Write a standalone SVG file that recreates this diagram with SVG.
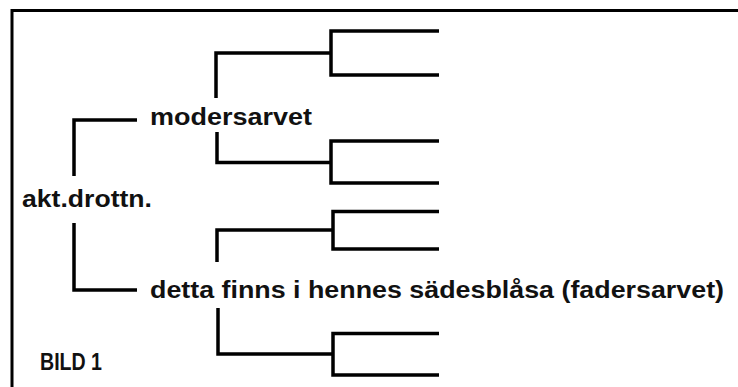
<svg xmlns="http://www.w3.org/2000/svg" width="738" height="387" viewBox="0 0 738 387">
  <style>
    .frame { fill: none; stroke: #000; stroke-width: 3; }
    .line { fill: none; stroke: #000; stroke-width: 3.5; stroke-linecap: butt; stroke-linejoin: miter; }
    .label { font-family: "Liberation Sans", Arial, sans-serif; font-weight: bold; font-size: 23px; fill: #111; }
  </style>
  <rect width="738" height="387" fill="#fff"/>
  <!-- open frame: top and left edges only -->
  <path class="frame" d="M12 387 V10.5 H738"/>

  <g id="connectors">
    <!-- root bracket -->
    <path class="line" d="M137 120 H74 V176"/>
    <path class="line" d="M74 223 V290 H137"/>
    <!-- modersarvet branch -->
    <path class="line" d="M216 98 V53 H331"/>
    <path class="line" d="M439 31 H331 V75 H439"/>
    <path class="line" d="M217 132 V162.5 H331"/>
    <path class="line" d="M439 141 H331 V183 H439"/>
    <!-- fadersarvet branch -->
    <path class="line" d="M217 262 V230 H333"/>
    <path class="line" d="M439 211.5 H333 V249 H439"/>
    <path class="line" d="M218 308 V354 H333"/>
    <path class="line" d="M439 333.5 H333 V375 H439"/>
  </g>

  <g id="node-akt">
    <text class="label" x="22" y="207" textLength="130" lengthAdjust="spacingAndGlyphs">akt.drottn.</text>
  </g>
  <g id="node-moder">
    <text class="label" x="150" y="125" textLength="162" lengthAdjust="spacingAndGlyphs">modersarvet</text>
  </g>
  <g id="node-fader">
    <text class="label" x="150" y="298" textLength="574" lengthAdjust="spacingAndGlyphs">detta finns i hennes sädesblåsa (fadersarvet)</text>
  </g>
  <g id="caption">
    <text class="label" x="40" y="370" textLength="62" lengthAdjust="spacingAndGlyphs">BILD 1</text>
  </g>
</svg>
